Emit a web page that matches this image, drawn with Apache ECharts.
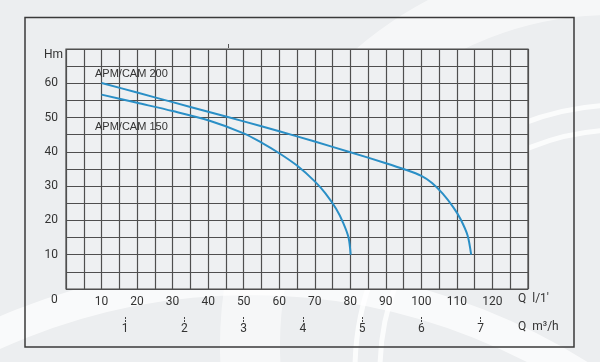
<!DOCTYPE html>
<html>
<head>
<meta charset="utf-8">
<script src="https://cdn.jsdelivr.net/npm/echarts@6/dist/echarts.min.js"></script>
<style>
  html, body { margin: 0; padding: 0; background: #eceef0; }
  #chart { width: 600px; height: 362px; }
</style>
</head>
<body>
<div id="chart"></div>
<script>
// Flow Q (l/min) and head H (m)
const q200 = [10, 20, 30, 40, 50, 60, 70, 80, 90, 95, 100, 103, 106, 109, 111, 113, 114];
const h200 = [60.1, 57.3, 54.5, 51.7, 48.9, 46.0, 43.0, 39.9, 36.7, 35.0, 33.0, 30.9, 27.8, 23.8, 20.4, 15.6, 10];
const q150 = [10, 20, 30, 40, 50, 55, 60, 65, 70, 73, 76, 78, 79.5, 80.1];
const h150 = [56.7, 54.3, 51.9, 49.2, 45.4, 42.7, 39.6, 36.0, 31.4, 27.9, 23.4, 19.3, 15.0, 10];
const seriesNames = ['APM/CAM 200', 'APM/CAM 150'];
const qTicksLpm = [10, 20, 30, 40, 50, 60, 70, 80, 90, 100, 110, 120];
const qTicksM3h = [1, 2, 3, 4, 5, 6, 7];
const hTicks = [10, 20, 30, 40, 50, 60];

const zip = (a, b) => a.map((v, i) => [v, b[i]]);
const FONT = 'Roboto';
const lineColor = '#2a8fc6';

const chart = echarts.init(document.getElementById('chart'), null, { renderer: 'canvas' });
chart.setOption({
  backgroundColor: 'transparent',
  animation: false,
  grid: {
    left: 66, top: 49, right: 72, bottom: 73,
    show: true, backgroundColor: '#eef0f2', borderColor: '#4a4a4a', borderWidth: 1.2
  },
  xAxis: [
    {
      type: 'value', min: 0, max: 130, interval: 5,
      axisLine: { show: false }, axisTick: { show: false },
      splitLine: { show: true, lineStyle: { color: '#4f4f4f', width: 1.2 } },
      axisLabel: {
        margin: 7, color: '#333', fontSize: 12, fontFamily: FONT,
        formatter: v => qTicksLpm.includes(v) ? String(v) : ''
      }
    },
    {
      type: 'value', min: 0, max: 7.8, position: 'bottom', offset: 28,
      axisLine: { show: false },
      axisTick: { show: true, length: 5, customValues: qTicksM3h, lineStyle: { color: '#444', width: 1, type: [2, 1] } },
      splitLine: { show: false },
      axisLabel: { customValues: qTicksM3h, margin: 6, color: '#333', fontSize: 12, fontFamily: FONT }
    }
  ],
  yAxis: {
    type: 'value', min: 0, max: 70, interval: 5,
    axisLine: { show: false }, axisTick: { show: false },
    splitLine: { show: true, lineStyle: { color: '#4f4f4f', width: 1.2 } },
    axisLabel: {
      margin: 8, color: '#333', fontSize: 12, fontFamily: FONT,
      formatter: v => hTicks.includes(v) ? String(v) : ''
    }
  },
  series: [
    {
      name: seriesNames[0], type: 'line', xAxisIndex: 0, data: zip(q200, h200),
      smooth: 0.3, symbol: 'none',
      lineStyle: { color: lineColor, width: 2 }
    },
    {
      name: seriesNames[1], type: 'line', xAxisIndex: 0, data: zip(q150, h150),
      smooth: 0.3, symbol: 'none',
      lineStyle: { color: lineColor, width: 2 }
    }
  ],
  graphic: [
    // decorative watermark arcs
    { type: 'circle', z: -20, silent: true, shape: { cx: 610, cy: 345, r: 360 },
      style: { fill: 'none', stroke: '#ffffff', lineWidth: 60, opacity: 0.55 } },
    { type: 'circle', z: -20, silent: true, shape: { cx: 620, cy: 370, r: 240 },
      style: { fill: 'none', stroke: '#ffffff', lineWidth: 5, opacity: 0.8 } },
    { type: 'circle', z: -20, silent: true, shape: { cx: 620, cy: 370, r: 265 },
      style: { fill: 'none', stroke: '#ffffff', lineWidth: 5, opacity: 0.8 } },
    { type: 'circle', z: -20, silent: true, shape: { cx: 250, cy: 900, r: 620 },
      style: { fill: 'none', stroke: '#ffffff', lineWidth: 30, opacity: 0.7 } },
    // outer frame
    { type: 'rect', z: 50, silent: true, shape: { x: 25, y: 17.5, width: 549, height: 329.5 },
      style: { fill: 'none', stroke: '#3a3a3a', lineWidth: 1.5 } },
    // small mark above the grid
    { type: 'line', z: 50, silent: true, shape: { x1: 228.5, y1: 44, x2: 228.5, y2: 48 },
      style: { stroke: '#555', lineWidth: 1 } },
    // texts
    { type: 'text', z: 60, left: 44, top: 49, style: { text: 'Hm', fontSize: 12, fontFamily: FONT, fill: '#333' } },
    { type: 'text', z: 60, left: 51, top: 294, style: { text: '0', fontSize: 12, fontFamily: FONT, fill: '#333' } },
    { type: 'text', z: 60, left: 518, top: 293, style: { text: "Q  l/1'", fontSize: 12, fontFamily: FONT, fill: '#333' } },
    { type: 'text', z: 60, left: 518, top: 321, style: { text: 'Q  m³/h', fontSize: 12, fontFamily: FONT, fill: '#333' } },
    { type: 'text', z: 60, left: 95, top: 68, style: { text: seriesNames[0], fontSize: 11, fontFamily: 'Liberation Sans', fill: '#333' } },
    { type: 'text', z: 60, left: 95, top: 121, style: { text: seriesNames[1], fontSize: 11, fontFamily: 'Liberation Sans', fill: '#333' } }
  ]
});
</script>
</body>
</html>
